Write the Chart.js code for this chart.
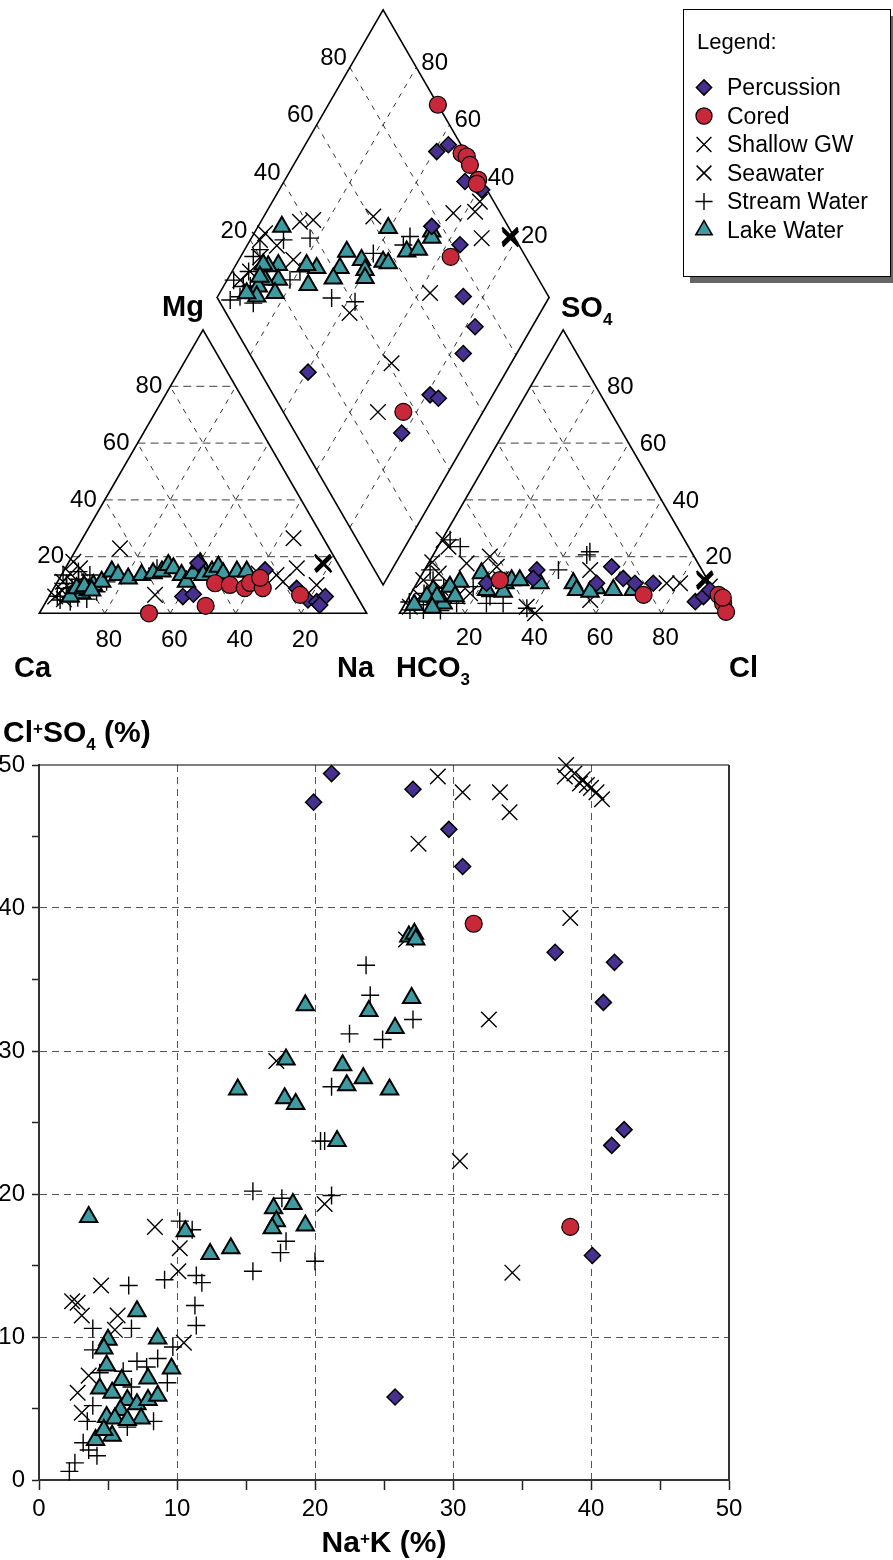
<!DOCTYPE html>
<html>
<head>
<meta charset="utf-8">
<script src="https://cdn.jsdelivr.net/npm/chart.js@4.4.1/dist/chart.umd.min.js"></script>
<style>
  html, body { margin: 0; padding: 0; background: #fff; }
  #page { position: relative; width: 893px; height: 1560px; overflow: hidden; }
  canvas { position: absolute; left: 0; }
  #piper { top: 0; }
  #scatter { top: 690px; }
</style>
</head>
<body>
<div id="page">
  <canvas id="piper" width="893" height="690"></canvas>
  <canvas id="scatter" width="893" height="870"></canvas>
</div>
<script>
// ---- Piper, cation triangle: [Na+K %, Mg %] ----
const percussionCation = [[40.9,5.9],[43.7,6.7],[61.3,15.3],[39.6,17.7],[74.2,8.8],[79.7,4.7],[82.7,4.1],[84.4,5.9],[84.2,2.9]];
const coredCation = [[33.5,0],[49.5,2.6],[48.4,10.6],[53.2,10],[58.3,8.9],[59,10.7],[63.8,8.9],[61.2,12.5],[76.4,6.5]];
const shallowCation = [[13.2,22.9],[32.1,6.5],[64.4,26.5],[70.7,15.9],[68.9,11.1],[79.7,10],[65.7,13.5],[1.9,5.9],[1.7,11.1],[4.5,15.9],[1.3,18.2],[3,8],[6,10],[2.5,14],[60,14],[5,5]];
const seawaterCation = [[77.9,17.6],[78.3,17.2],[77.5,18.0]];
const streamCation = [[4,8.8],[6.9,7.1],[7.8,11.1],[13.7,7.6],[15,11.1],[4,4.7],[7.4,4.1],[28,15.9],[0.5,13.5],[4.6,14.7],[8.7,13.5],[2.5,6],[5.5,9],[10,9],[3,10.5],[9,5.5],[12,5],[6,12]];
const lakeCation = [[9.4,7.1],[10.9,8.2],[11.5,10],[13.5,11.1],[14.8,14.7],[17.3,13.5],[21,12.3],[24.5,13.5],[27.7,14.1],[30.1,14.7],[30.9,17],[33,15.9],[36.7,13.5],[39.4,11.1],[39.9,14.1],[40.3,17.6],[43.3,13.5],[45.4,14.7],[46.5,16.4],[49.1,14.1],[53,14.7],[56,14.7],[6.5,5.9],[7,8.8],[9,9.5],[12,8]];

// ---- Piper, anion triangle: [Cl %, SO4 %] ----
const percussionAnion = [[34.3,15.3],[34.7,12.3],[21.3,10.6],[54.9,10.6],[56.6,16.4],[62.2,12.3],[66.6,10.6],[72.2,10.6],[88.3,4.1],[89.9,5.9],[90.7,8.2]];
const coredAnion = [[24.8,11.7],[71.3,6.5],[94.2,6.5],[97.1,3.5],[99.5,0.5],[96,5.5]];
const shallowAnion = [[0.5,25.9],[3.2,23.5],[11.7,17.6],[17.6,20],[21.5,16.4],[41.4,0],[37.7,2.3],[50.6,15.3],[55.9,4.7],[76.3,10.6],[80.4,10.6],[2,2.3],[3.4,5.9],[1.4,11.7],[14.6,5.9],[18,7.1],[1,18],[5,14],[8,9],[25,12],[90.1,9.4]];
const seawaterAnion = [[87.4,11.7],[87.8,11.2],[87,12.2]];
const streamAnion = [[47.3,21.7],[46.9,20.6],[40.9,15.3],[6.8,23.5],[2.5,25.9],[6.7,1.2],[2.6,1.2],[10.1,4.7],[15.7,3.5],[24.7,5.9],[29.9,3.5],[24.8,3.5],[1.7,15.3],[4.4,11.7],[38,1.8],[17.8,9.4],[4,7],[7,3],[1,4],[12,1],[9,9]];
const lakeAnion = [[18,14.1],[26.9,10.6],[28.4,11.7],[30.9,11.7],[37.6,10.6],[47.8,10.6],[50,8.2],[55.8,8.8],[61.2,8.2],[67.3,8.2],[12.9,11.1],[10.7,9.4],[6.2,8.2],[11.6,3.5],[5.4,5.9],[8.5,5.9],[27.9,7.6],[22.5,8.2],[54.4,7.6],[3,3],[9,2],[14,6]];

// ---- Piper, diamond: [Na+K %, Cl+SO4 %] ----
const percussionDiamond = [[40.8,91.5],[43.1,96.2],[54.5,94.8],[61,98.4],[52.3,77],[64,82.3],[74,74.3],[82.8,72.6],[83.9,64.4],[81.1,47.2],[84.2,49.1],[79.2,32],[40.4,14.4]];
const coredDiamond = [[33,100],[48.6,98.7],[50.7,99.7],[53.1,99.2],[58.2,99.1],[58.5,98],[63.3,77.4],[76,36.2]];
const shallowDiamond = [[56.5,85.8],[62.8,92.6],[62.5,95.8],[69.4,90],[33,61.1],[63.4,64.9],[64,41.1],[42.6,37.2],[68.4,28.5],[11.8,38.1],[15.5,42.4],[3.3,25.6],[2.9,22.9],[5.4,14.4],[16.4,29.5],[6,20],[9,27],[4,10]];
const seawaterDiamond = [[77.8,98.8],[78.2,98.6],[77.4,99]];
const streamDiamond = [[17.7,38.3],[10,30],[47.5,68.7],[34.6,34.4],[42.3,40.8],[39.4,54.7],[18.9,25],[20.5,29.4],[4.4,3.5],[6.8,7],[11.9,9.9],[4.6,21.2],[3.8,18],[6,9.8],[47,65.2],[5,14],[8,12],[2,8]];
const lakeDiamond = [[7.2,31.8],[39.5,63.6],[31.1,47],[37,50],[39.8,49.3],[41.2,47.9],[31.9,42.1],[31.7,38.3],[24.9,35.1],[25.3,29.6],[21.3,32.6],[12.8,24.1],[15.4,21.5],[10,20.8],[11.4,17.5],[10.5,14.3],[16.7,18.2],[11.8,12.1],[8.2,9.6],[43.8,56.2],[45.6,57.5],[49.1,65.1],[52.3,68.9],[53.2,76.1],[54.3,75],[8.2,19.6],[9.3,16.5]];

// ---- lower plot: [Na+K %, Cl+SO4 %] ----
const percussionMix = [[21.2,49.4],[19.9,47.4],[27.1,48.3],[29.7,45.5],[30.7,42.9],[37.4,36.9],[41.7,36.2],[40.9,33.4],[42.4,24.5],[41.5,23.4],[40.1,15.7],[25.8,5.8]];
const coredMix = [[31.5,38.9],[38.5,17.7]];
const shallowMix = [[28.9,49.2],[30.7,48.1],[33.4,48.1],[34.1,46.7],[27.5,44.5],[38.5,39.3],[32.6,32.2],[30.5,22.3],[34.3,14.5],[17.2,29.3],[20.7,19.3],[26.6,37.8],[8.4,17.7],[10.2,16.2],[10.1,14.6],[10.5,9.6],[4.5,13.6],[2.4,12.5],[2.8,12.4],[3.1,11.5],[5.7,11.5],[5.5,10.5],[3.6,7.3],[2.8,6.1],[3.1,4.7]];
const seawaterMix = [[38.2,50],[38.1,49.2],[38.8,49.4],[39.2,48.7],[39.7,48.6],[40,48.4],[40.4,48.1],[40.8,47.6],[39.4,49]];
const streamMix = [[23.7,36],[24,33.9],[22.5,31.2],[24.9,30.8],[27.1,32.2],[21.2,27.5],[20.4,23.7],[20.7,23.7],[15.5,20.2],[17.6,19.7],[21.2,19.9],[17.9,16.7],[17.5,15.9],[20,15.3],[15.5,14.6],[10.2,18.1],[11.1,17.5],[9.1,14],[11.4,14.3],[11.8,13.8],[11.3,12.2],[11.4,10.8],[6.5,13.6],[3.9,10.6],[6.7,10.6],[3.9,9.1],[7.1,8.3],[7.8,7.9],[8.6,8.5],[9.3,6.8],[4.4,7.5],[6.1,7.6],[3.9,5.2],[3.5,4.1],[3.2,2.6],[3.6,2.1],[4.2,1.7],[2.6,1.2],[2.2,0.6],[8.3,4.1],[6.4,3.7],[6.7,6.5],[9.7,9.3]];
const lakeMix = [[19.3,33.2],[27,33.7],[23.9,32.8],[25.8,31.6],[26.8,38],[27.2,38.2],[27.3,37.8],[17.9,29.4],[14.4,27.3],[17.8,26.7],[18.6,26.3],[22,29],[23.5,28.1],[22.3,27.6],[25.4,27.3],[21.6,23.7],[3.6,18.4],[10.6,17.4],[17,19],[18.4,19.3],[17.2,18.1],[16.9,17.6],[19.3,17.8],[12.4,15.8],[13.9,16.2],[7.1,11.8],[8.6,9.9],[5,9.8],[4.7,9.2],[4.9,8],[6,7],[7.9,7.1],[9.6,7.8],[4.4,6.4],[5.3,6.1],[6.4,5.6],[7.1,5.3],[7.9,5.6],[8.6,5.9],[5.9,4.9],[7.4,4.3],[4.9,4.4],[5.5,4.3],[6.4,4.2],[5.3,3.1],[4.1,2.8],[4.7,3.5]];

const seriesNames = ['Percussion', 'Cored', 'Shallow GW', 'Seawater', 'Stream Water', 'Lake Water'];
const cationSets = [percussionCation, coredCation, shallowCation, seawaterCation, streamCation, lakeCation];
const anionSets = [percussionAnion, coredAnion, shallowAnion, seawaterAnion, streamAnion, lakeAnion];
const diamondSets = [percussionDiamond, coredDiamond, shallowDiamond, seawaterDiamond, streamDiamond, lakeDiamond];
const mixSets = [percussionMix, coredMix, shallowMix, seawaterMix, streamMix, lakeMix];
const axisTicks = [0, 10, 20, 30, 40, 50];
const ternaryTicks = [20, 40, 60, 80];

const FONT = '"Liberation Sans", Arial, Helvetica, sans-serif';
Chart.defaults.font.family = FONT;
Chart.defaults.color = '#000';

const markers = [
  {pointStyle: 'rectRot', radius: 8, fill: '#47308f', width: 1.5},
  {pointStyle: 'circle', radius: 8.5, fill: '#c8283a', width: 1.2},
  {pointStyle: 'crossRot', radius: 11, fill: 'transparent', width: 1.4},
  {pointStyle: 'crossRot', radius: 11, fill: 'transparent', width: 2.2},
  {pointStyle: 'cross', radius: 9, fill: 'transparent', width: 1.4},
  {pointStyle: 'triangle', radius: 10, fill: '#3d9aa1', width: 2}
];
// lower = drawn on top
const drawOrder = [2, 1, 4, 3, 5, 3];

// piper geometry (data units of the piper chart == page pixels)
const S = 327.4, H = S * Math.sqrt(3) / 2;
const catOrigin = {x: 39.3, y: 613.3};
const anOrigin = {x: 399.5, y: 613.3};
const DS = 332, DH = DS * Math.sqrt(3) / 2;
const dBottom = {x: 383.1, y: 584.9};

function cationXY(p) {
  return {x: catOrigin.x + (p[0] + p[1] / 2) / 100 * S, y: catOrigin.y - p[1] / 100 * H};
}
function anionXY(p) {
  return {x: anOrigin.x + (p[0] + p[1] / 2) / 100 * S, y: anOrigin.y - p[1] / 100 * H};
}
function diamondXY(p) {
  const u = (100 - p[0]) / 100, v = p[1] / 100;
  return {x: dBottom.x + DS / 2 * (v - u), y: dBottom.y - DH * (u + v)};
}

function pointOpts(i, thin) {
  const m = markers[i];
  return {
    label: seriesNames[i],
    order: drawOrder[i],
    pointStyle: m.pointStyle,
    pointRadius: m.radius,
    pointHoverRadius: m.radius,
    pointBackgroundColor: m.fill,
    pointBorderColor: '#000',
    pointBorderWidth: thin ? Math.min(m.width, 2) : m.width,
    backgroundColor: m.fill,
    borderColor: '#000',
    showLine: false
  };
}

function richText(ctx, parts, x, y, size, align) {
  const fontFor = p => 'bold ' + (p[1] ? Math.round(size * 0.58) : size) + 'px ' + FONT;
  let total = 0;
  parts.forEach(p => { ctx.font = fontFor(p); total += ctx.measureText(p[0]).width; });
  let cx = align === 'center' ? x - total / 2 : x;
  ctx.textAlign = 'left';
  ctx.textBaseline = 'alphabetic';
  parts.forEach(p => {
    ctx.font = fontFor(p);
    const dy = p[1] === 'sup' ? -size * 0.28 : p[1] === 'sub' ? size * 0.26 : 0;
    ctx.fillText(p[0], cx, y + dy);
    cx += ctx.measureText(p[0]).width;
  });
}

function markerGlyph(ctx, i, x, y, scale) {
  const m = markers[i];
  const w = Math.min(m.width, 1.5);
  ctx.save();
  ctx.fillStyle = m.fill;
  ctx.strokeStyle = '#000';
  ctx.lineWidth = w;
  Chart.helpers.drawPoint(ctx, {pointStyle: m.pointStyle, radius: m.radius * scale, rotation: 0, borderWidth: w}, x, y);
  ctx.restore();
}

const piperFrame = {
  id: 'piperFrame',
  beforeDatasetsDraw(chart) {
    const {ctx, scales: {x, y}} = chart;
    const px = p => [x.getPixelForValue(p.x), y.getPixelForValue(p.y)];
    const seg = (a, b, dash, color, width) => {
      const A = px(a), B = px(b);
      ctx.save();
      ctx.setLineDash(dash);
      ctx.strokeStyle = color;
      ctx.lineWidth = width;
      ctx.beginPath(); ctx.moveTo(A[0], A[1]); ctx.lineTo(B[0], B[1]); ctx.stroke();
      ctx.restore();
    };
    const poly = pts => {
      ctx.save();
      ctx.strokeStyle = '#000'; ctx.lineWidth = 1.6; ctx.lineJoin = 'miter';
      ctx.beginPath();
      pts.forEach((p, k) => { const P = px(p); k ? ctx.lineTo(P[0], P[1]) : ctx.moveTo(P[0], P[1]); });
      ctx.closePath(); ctx.stroke();
      ctx.restore();
    };
    const slant = [5, 6], flat = [8, 5];
    ternaryTicks.forEach(k => {
      [cationXY, anionXY].forEach(f => {
        seg(f([0, k]), f([100 - k, k]), flat, '#666', 1.3);
        seg(f([k, 0]), f([k, 100 - k]), slant, '#000', 0.8);
        seg(f([100 - k, 0]), f([0, 100 - k]), slant, '#000', 0.8);
      });
      seg(diamondXY([k, 0]), diamondXY([k, 100]), slant, '#000', 0.8);
      seg(diamondXY([0, k]), diamondXY([100, k]), slant, '#000', 0.8);
    });
    poly([cationXY([0, 0]), cationXY([100, 0]), cationXY([0, 100])]);
    poly([anionXY([0, 0]), anionXY([100, 0]), anionXY([0, 100])]);
    poly([diamondXY([100, 0]), diamondXY([0, 0]), diamondXY([0, 100]), diamondXY([100, 100])]);

    ctx.save();
    ctx.fillStyle = '#000';
    ctx.font = '24px ' + FONT;
    ctx.textBaseline = 'middle';
    ternaryTicks.forEach(k => {
      let p = px(cationXY([0, k]));
      ctx.textAlign = 'right'; ctx.fillText(String(k), p[0] - 8, p[1]);
      p = px(cationXY([100 - k, 0]));
      ctx.textAlign = 'center'; ctx.fillText(String(k), p[0] + 4, p[1] + 27);
      p = px(anionXY([100 - k, k]));
      ctx.textAlign = 'left'; ctx.fillText(String(k), p[0] + 11, p[1] + 1);
      p = px(anionXY([k, 0]));
      ctx.textAlign = 'center'; ctx.fillText(String(k), p[0] + 4, p[1] + 25);
      p = px(diamondXY([0, k]));
      ctx.textAlign = 'right'; ctx.fillText(String(k), p[0] - 3, p[1] - 9);
      p = px(diamondXY([100 - k, 100]));
      ctx.textAlign = 'left'; ctx.fillText(String(k), p[0] + 5, p[1] - 4);
    });
    richText(ctx, [['Mg', '']], 183, 316, 29, 'center');
    richText(ctx, [['SO', ''], ['4', 'sub']], 561, 317, 29, 'left');
    richText(ctx, [['Ca', '']], 14, 677, 29, 'left');
    richText(ctx, [['Na', '']], 337, 677, 29, 'left');
    richText(ctx, [['HCO', ''], ['3', 'sub']], 396, 677, 29, 'left');
    richText(ctx, [['Cl', '']], 729, 677, 29, 'left');
    ctx.restore();
  },
  afterDraw(chart) {
    const ctx = chart.ctx;
    ctx.save();
    ctx.fillStyle = '#666';
    ctx.fillRect(690, 16, 206, 267);
    ctx.fillStyle = '#fff';
    ctx.fillRect(683.5, 9.5, 207, 267);
    ctx.strokeStyle = '#000'; ctx.lineWidth = 1;
    ctx.strokeRect(683.5, 9.5, 207, 267);
    ctx.fillStyle = '#000';
    ctx.font = '22px ' + FONT;
    ctx.textAlign = 'left'; ctx.textBaseline = 'alphabetic';
    ctx.fillText('Legend:', 697, 49);
    seriesNames.forEach((name, i) => {
      const base = 95 + i * 28.5;
      markerGlyph(ctx, i, 704, base - 7.5, 0.95);
      ctx.fillStyle = '#000';
      ctx.font = '23px ' + FONT;
      ctx.fillText(name, 727, base);
    });
    ctx.restore();
  }
};

new Chart(document.getElementById('piper'), {
  type: 'scatter',
  data: {
    datasets: seriesNames.map((n, i) => Object.assign(pointOpts(i, false), {
      data: cationSets[i].map(cationXY).concat(anionSets[i].map(anionXY), diamondSets[i].map(diamondXY))
    }))
  },
  options: {
    responsive: false,
    animation: false,
    events: [],
    layout: {padding: 0, autoPadding: false},
    scales: {
      x: {type: 'linear', min: 0, max: 893, display: false},
      y: {type: 'linear', min: 0, max: 690, reverse: true, display: false}
    },
    plugins: {legend: {display: false}, tooltip: {enabled: false}}
  },
  plugins: [piperFrame]
});

// ---- lower scatter ----
const gridColor = c => {
  const v = c.tick ? c.tick.value : 0;
  return (v % 10 === 0 && v > 0 && v < 50) ? '#555' : 'rgba(0,0,0,0)';
};
const tickLabel = v => axisTicks.includes(v) ? String(v) : '';

const mixFrame = {
  id: 'mixFrame',
  afterDraw(chart) {
    const {ctx, chartArea: a} = chart;
    ctx.save();
    ctx.strokeStyle = '#000'; ctx.lineWidth = 1.2;
    ctx.beginPath(); ctx.moveTo(a.left, a.top); ctx.lineTo(a.right, a.top); ctx.stroke();
    ctx.strokeStyle = '#333'; ctx.lineWidth = 2;
    ctx.beginPath(); ctx.moveTo(a.right, a.top); ctx.lineTo(a.right, a.bottom); ctx.stroke();
    ctx.fillStyle = '#000';
    richText(ctx, [['Cl', ''], ['+', 'sup'], ['SO', ''], ['4', 'sub'], [' (%)', '']], 3, 52, 30, 'left');
    richText(ctx, [['Na', ''], ['+', 'sup'], ['K (%)', '']], (a.left + a.right) / 2, 862, 30, 'center');
    ctx.restore();
  }
};

new Chart(document.getElementById('scatter'), {
  type: 'scatter',
  data: {
    datasets: seriesNames.map((n, i) => Object.assign(pointOpts(i, true), {
      pointBorderWidth: i === 3 ? 1.4 : markers[i].width,
      data: mixSets[i].map(p => ({x: p[0], y: p[1]}))
    }))
  },
  options: {
    responsive: false,
    animation: false,
    events: [],
    clip: false,
    layout: {padding: {left: 0, right: 164, top: 75, bottom: 0}, autoPadding: false},
    scales: {
      x: {
        type: 'linear', min: 0, max: 50,
        afterFit: s => { s.height = 80; },
        ticks: {stepSize: 5, autoSkip: false, maxRotation: 0, callback: tickLabel, font: {size: 24}, color: '#000', padding: 5},
        grid: {color: gridColor, lineWidth: 1, tickColor: '#222', tickLength: 10, tickWidth: 1.5, tickBorderDash: []},
        border: {display: true, color: '#333', width: 2, dash: [7, 5]}
      },
      y: {
        type: 'linear', min: 0, max: 50,
        afterFit: s => { s.width = 39; },
        ticks: {stepSize: 5, autoSkip: false, callback: tickLabel, font: {size: 24}, color: '#000', padding: 7},
        grid: {color: gridColor, lineWidth: 1, tickColor: '#222', tickLength: 7, tickWidth: 1.5, tickBorderDash: []},
        border: {display: true, color: '#333', width: 2, dash: [7, 5]}
      }
    },
    plugins: {legend: {display: false}, tooltip: {enabled: false}}
  },
  plugins: [mixFrame]
});
</script>
</body>
</html>
